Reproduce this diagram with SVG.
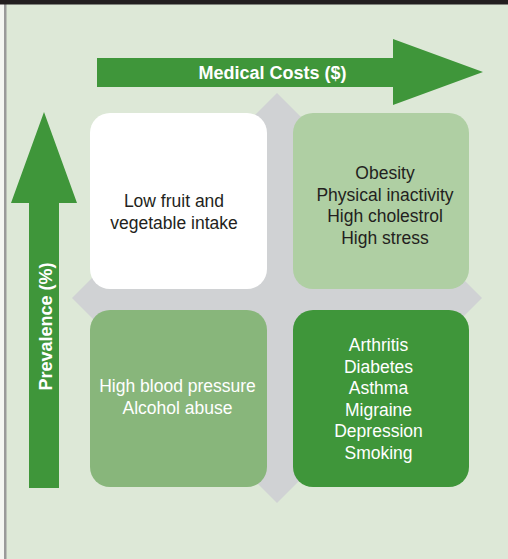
<svg xmlns="http://www.w3.org/2000/svg" width="508" height="559" viewBox="0 0 508 559">
<style>
.lbl{font-family:"Liberation Sans",Arial,Helvetica,sans-serif;font-size:17.5px;text-anchor:middle}
.dark{fill:#231f20}
.light{fill:#ffffff}
.axis{font-family:"Liberation Sans",Arial,Helvetica,sans-serif;font-size:18px;font-weight:bold;fill:#ffffff;text-anchor:middle}
.arrow{fill:#3f963a}
</style>
<rect x="0" y="0" width="508" height="559" fill="#f4f6f2"/>
<rect x="5" y="0" width="503" height="559" fill="#dde8d7"/>
<rect x="4" y="0" width="2.5" height="559" fill="#9a9a9a"/>
<rect x="0" y="0" width="508" height="4.5" fill="#231f20"/>
<g id="connectors">
<polygon id="diamond" points="277,93 482,298 277,503 72,298" fill="#d0d2d4"/>
</g>
<g id="arrow-x">
<polygon class="arrow" points="97,58 393,58 393,39 483,72 393,105 393,87 97,87"/>
<text class="axis" x="272.5" y="79">Medical Costs ($)</text>
</g>
<g id="arrow-y">
<polygon class="arrow" points="29,488 29,203 11,203 44,112 77,203 59,203 59,488"/>
<text class="axis" transform="translate(51.5,326.5) rotate(-90)" x="0" y="0">Prevalence (%)</text>
</g>
<g id="node-tl">
<rect x="90" y="113" width="177" height="176" rx="20" fill="#ffffff"/>
<text class="lbl dark" x="174" y="207">Low fruit and</text>
<text class="lbl dark" x="174" y="228.5">vegetable intake</text>
</g>
<g id="node-tr">
<rect x="293" y="113" width="176" height="176" rx="20" fill="#afcfa3"/>
<text class="lbl dark" x="385" y="179">Obesity</text>
<text class="lbl dark" x="385" y="200.5">Physical inactivity</text>
<text class="lbl dark" x="385" y="222">High cholestrol</text>
<text class="lbl dark" x="385" y="243.5">High stress</text>
</g>
<g id="node-bl">
<rect x="90" y="310" width="177" height="177" rx="20" fill="#88b67b"/>
<text class="lbl light" x="177.5" y="392">High blood pressure</text>
<text class="lbl light" x="177.5" y="414">Alcohol abuse</text>
</g>
<g id="node-br">
<rect x="293" y="310" width="176" height="177" rx="20" fill="#3f963a"/>
<text class="lbl light" x="378.5" y="351">Arthritis</text>
<text class="lbl light" x="378.5" y="372.5">Diabetes</text>
<text class="lbl light" x="378.5" y="394">Asthma</text>
<text class="lbl light" x="378.5" y="415.5">Migraine</text>
<text class="lbl light" x="378.5" y="437">Depression</text>
<text class="lbl light" x="378.5" y="458.5">Smoking</text>
</g>
</svg>
